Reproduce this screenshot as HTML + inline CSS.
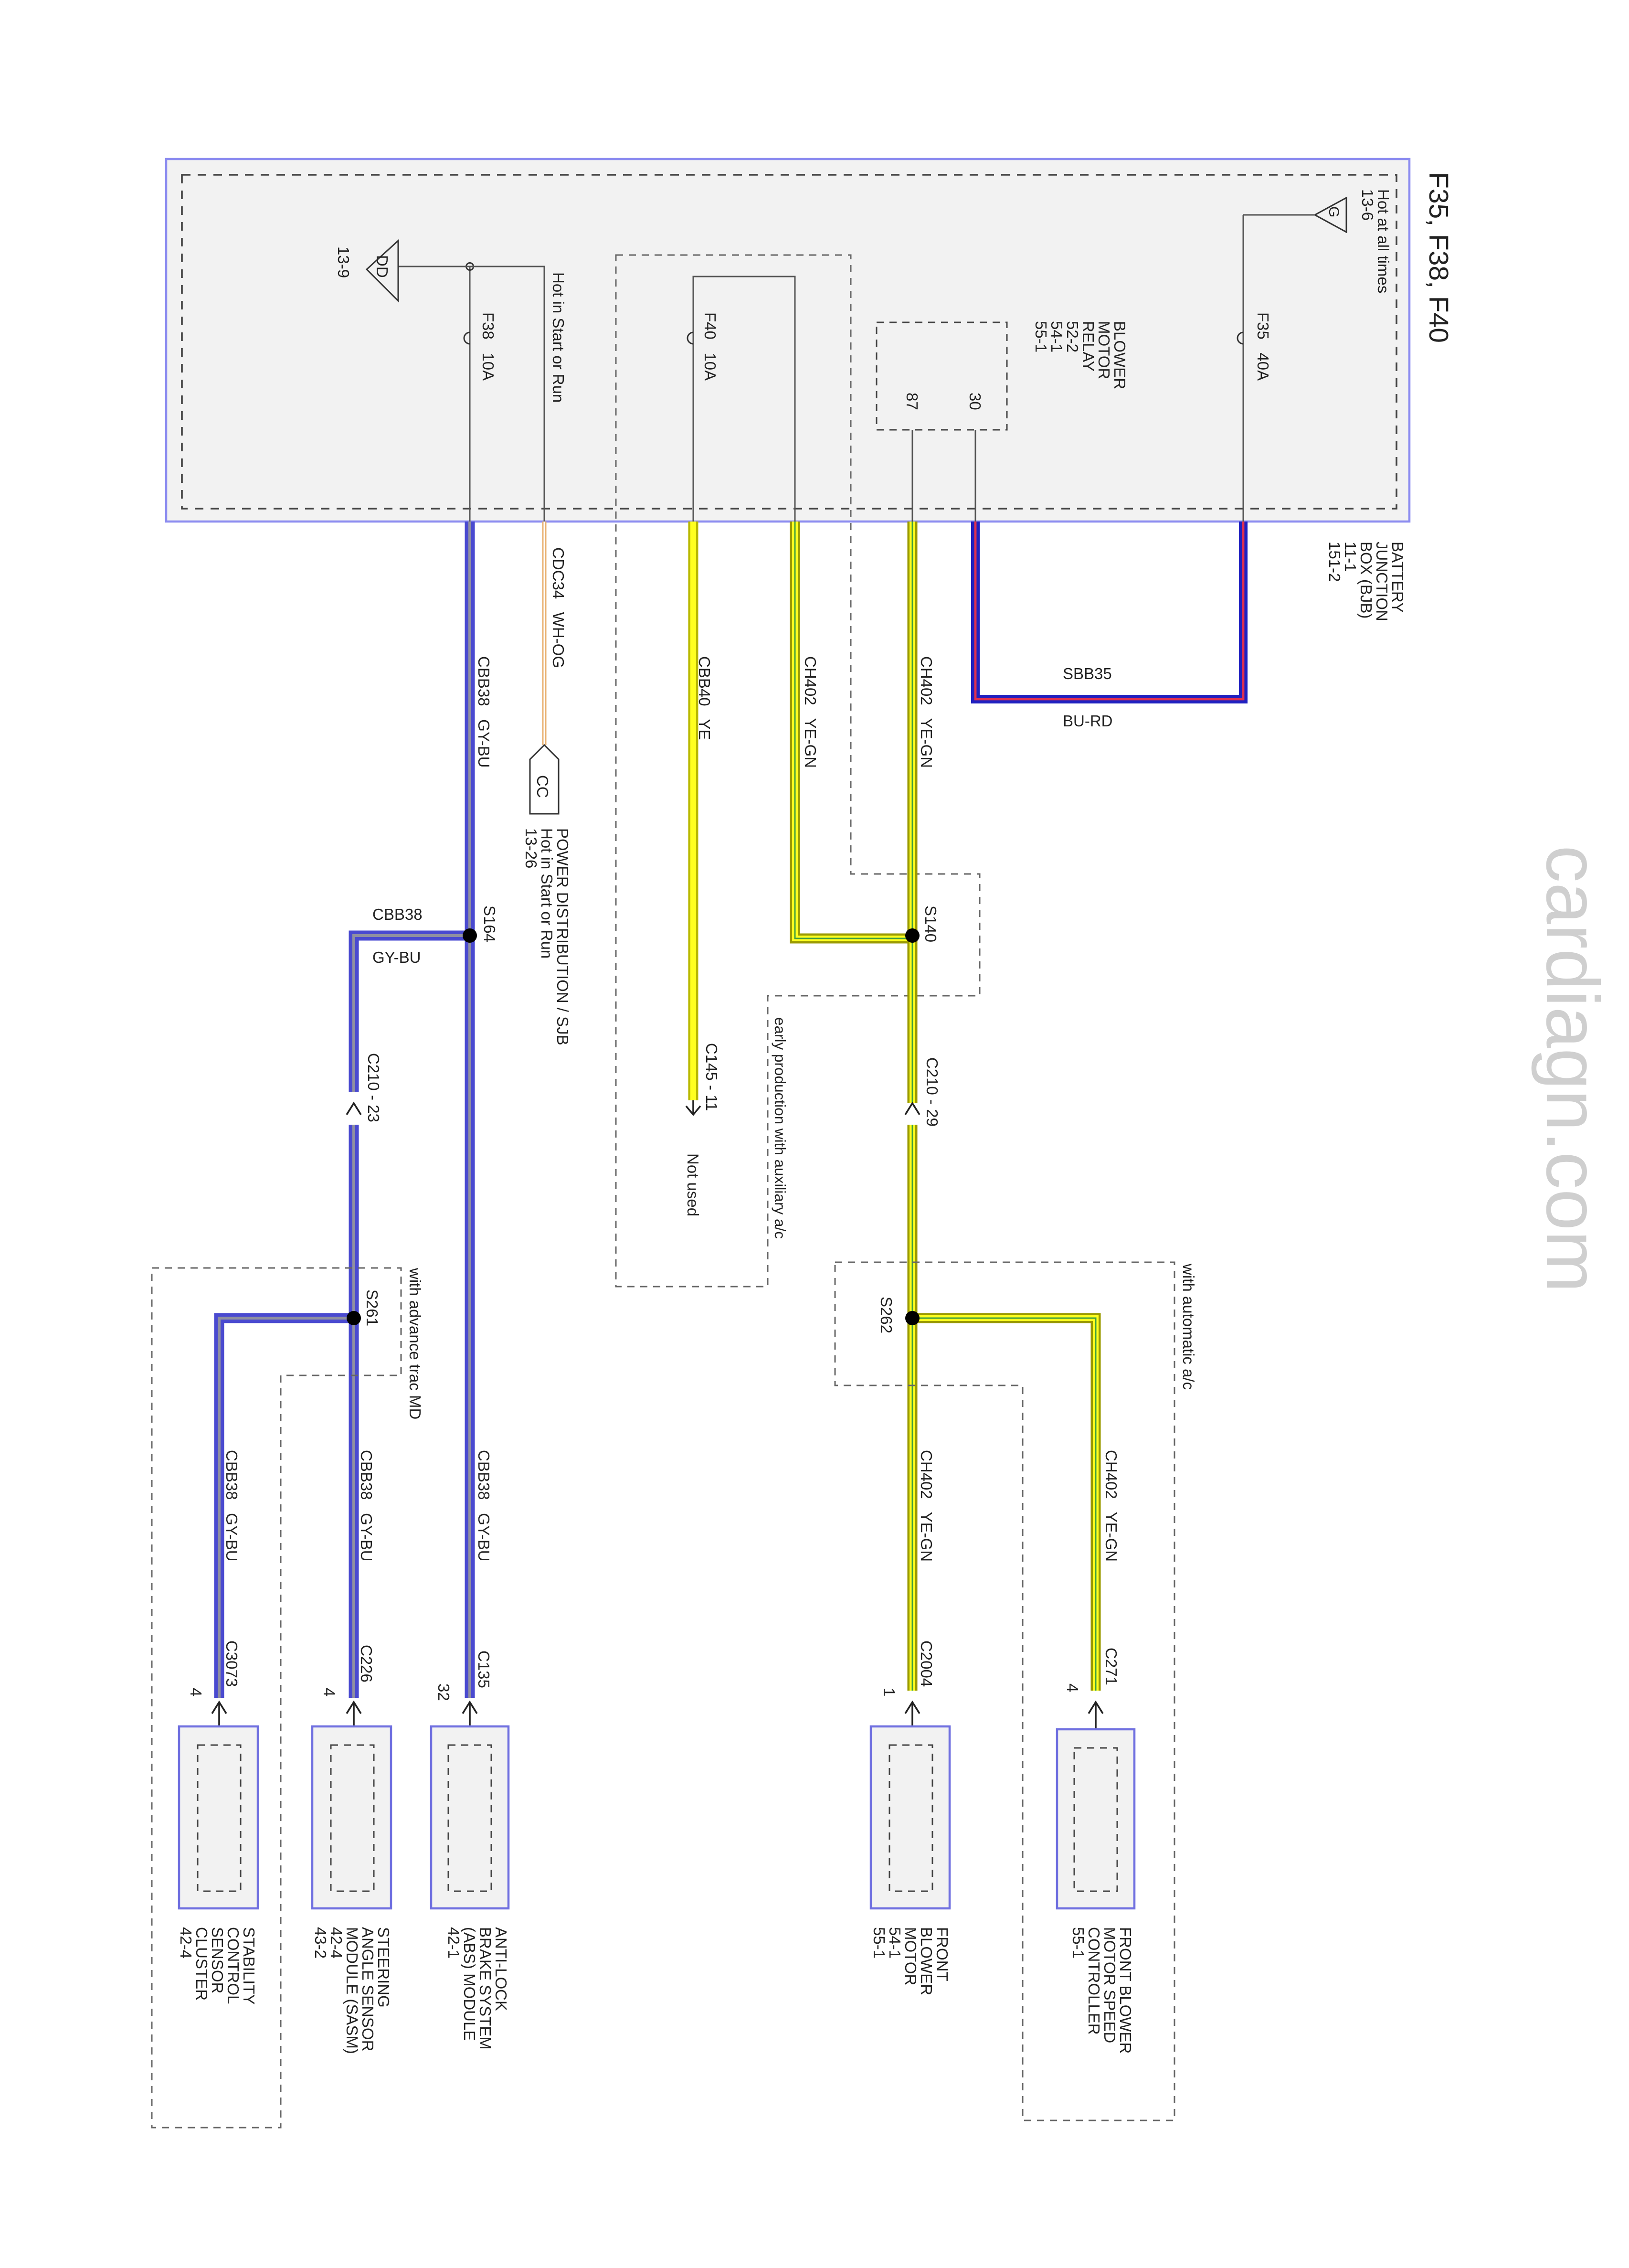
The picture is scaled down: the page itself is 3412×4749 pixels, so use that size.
<!DOCTYPE html>
<html><head><meta charset="utf-8"><style>
html,body{margin:0;padding:0;background:#fff;}
svg{display:block}
text{font-family:"Liberation Sans",sans-serif;fill:#222;white-space:pre;}
</style></head><body>
<svg width="3412" height="4749" viewBox="0 0 1137.33 1583" xmlns="http://www.w3.org/2000/svg">
<defs>
<g id="arr"><path d="M-5,6 L0,0 L5,6" fill="none" stroke="#222" stroke-width="1.2"/><line x1="0" y1="0" x2="0" y2="10" stroke="#222" stroke-width="1.2"/></g>
</defs>
<rect x="116" y="111" width="868" height="253" fill="#f2f2f2" stroke="#8c8cf0" stroke-width="1.5"/>
<rect x="127" y="122" width="848" height="233" fill="none" stroke="#444" stroke-width="1.2" stroke-dasharray="6,5"/>
<text transform="translate(998,120) rotate(90)" font-size="19">F35, F38, F40</text>
<g font-size="11">
<text transform="translate(972,378) rotate(90)">BATTERY</text>
<text transform="translate(961,378) rotate(90)">JUNCTION</text>
<text transform="translate(950,378) rotate(90)">BOX (BJB)</text>
<text transform="translate(939,378) rotate(90)">11-1</text>
<text transform="translate(928,378) rotate(90)">151-2</text>
<text transform="translate(962,132) rotate(90)">Hot at all times</text>
<text transform="translate(951,132) rotate(90)">13-6</text>
<text transform="translate(878,218) rotate(90)">F35   40A</text>
<text transform="translate(778,224) rotate(90)">BLOWER</text>
<text transform="translate(767,224) rotate(90)">MOTOR</text>
<text transform="translate(756,224) rotate(90)">RELAY</text>
<text transform="translate(745,224) rotate(90)">52-2</text>
<text transform="translate(734,224) rotate(90)">54-1</text>
<text transform="translate(723,224) rotate(90)">55-1</text>
<text transform="translate(677,274) rotate(90)">30</text>
<text transform="translate(633,274) rotate(90)">87</text>
<text transform="translate(492,218) rotate(90)">F40   10A</text>
<text transform="translate(337,218) rotate(90)">F38   10A</text>
<text transform="translate(386,190) rotate(90)">Hot in Start or Run</text>
<text transform="translate(236,172) rotate(90)">13-9</text>
</g>
<path d="M940,138 L940,162 L918,150 Z" fill="none" stroke="#333" stroke-width="1"/>
<text transform="translate(928,144) rotate(90)" font-size="10">G</text>
<line x1="918" y1="150" x2="868" y2="150" stroke="#555" stroke-width="1"/>
<line x1="868" y1="150" x2="868" y2="364" stroke="#555" stroke-width="1"/>
<path d="M868,232 a4,4 0 0,0 0,8" fill="none" stroke="#333"/>
<rect x="612" y="225" width="91" height="75" fill="none" stroke="#444" stroke-dasharray="5,4"/>
<line x1="681" y1="300" x2="681" y2="364" stroke="#555"/>
<line x1="637" y1="300" x2="637" y2="364" stroke="#555"/>
<path d="M868,364 V488 H681 V364" fill="none" stroke="#2020c0" stroke-width="6"/>
<path d="M868,364 V488 H681 V364" fill="none" stroke="#e03050" stroke-width="1.6"/>
<text transform="translate(742,474)" font-size="11">SBB35</text>
<text transform="translate(742,507)" font-size="11">BU-RD</text>
<path d="M430,178 H594 V610 H684 V695 H536 V898 H430 Z" fill="none" stroke="#666" stroke-dasharray="5,4"/>
<text transform="translate(541,710) rotate(90)" font-size="10.5">early production with auxiliary a/c</text>
<path d="M484,364 V193 H555 V364" fill="none" stroke="#555"/>
<path d="M484,232 a4,4 0 0,0 0,8" fill="none" stroke="#333"/>
<line x1="484" y1="364" x2="484" y2="768" stroke="#b8b800" stroke-width="7"/>
<line x1="484" y1="364" x2="484" y2="768" stroke="#ffff20" stroke-width="4"/>
<use href="#arr" x="484" y="768" transform="rotate(180 484 773)"/>
<g font-size="11">
<text transform="translate(488,458) rotate(90)">CBB40   YE</text>
<text transform="translate(493,728) rotate(90)">C145 - 11</text>
<text transform="translate(480,805) rotate(90)">Not used</text>
</g>
<g fill="none">
<path d="M555,364 V655 H637" stroke="#9a9a00" stroke-width="7"/>
<path d="M555,364 V655 H637" stroke="#ffff20" stroke-width="4"/>
<path d="M555,364 V655 H637" stroke="#40a040" stroke-width="1"/>
<path d="M637,364 V770 M637,785 V1180" stroke="#9a9a00" stroke-width="7"/>
<path d="M637,364 V770 M637,785 V1180" stroke="#ffff20" stroke-width="4"/>
<path d="M637,364 V770 M637,785 V1180" stroke="#40a040" stroke-width="1"/>
<path d="M637,920 H765 V1180" stroke="#9a9a00" stroke-width="7"/>
<path d="M637,920 H765 V1180" stroke="#ffff20" stroke-width="4"/>
<path d="M637,920 H765 V1180" stroke="#40a040" stroke-width="1"/>
</g>
<circle cx="637" cy="653" r="5" fill="#000"/>
<circle cx="637" cy="920" r="5" fill="#000"/>
<path d="M632,778 L637,770 L642,778" fill="none" stroke="#222" stroke-width="1.2"/>
<g font-size="11">
<text transform="translate(562,458) rotate(90)">CH402   YE-GN</text>
<text transform="translate(643,458) rotate(90)">CH402   YE-GN</text>
<text transform="translate(646,632) rotate(90)">S140</text>
<text transform="translate(647,738) rotate(90)">C210 - 29</text>
<text transform="translate(615,905) rotate(90)">S262</text>
<text transform="translate(643,1012) rotate(90)">CH402   YE-GN</text>
<text transform="translate(772,1012) rotate(90)">CH402   YE-GN</text>
<text transform="translate(643,1145) rotate(90)">C2004</text>
<text transform="translate(772,1150) rotate(90)">C271</text>
<text transform="translate(617,1178) rotate(90)">1</text>
<text transform="translate(745,1175) rotate(90)">4</text>
<text transform="translate(826,882) rotate(90)">with automatic a/c</text>
</g>
<path d="M583,881 H820 V1480 H714 V967 H583 Z" fill="none" stroke="#666" stroke-dasharray="5,4"/>
<line x1="328" y1="186" x2="328" y2="364" stroke="#555"/>
<path d="M328,232 a4,4 0 0,0 0,8" fill="none" stroke="#333"/>
<circle cx="328" cy="186" r="2.5" fill="none" stroke="#333"/>
<path d="M278,186 H380 V364" fill="none" stroke="#555"/>
<path d="M278,168 L278,210 L256,188 Z" fill="none" stroke="#333"/>
<text transform="translate(263,178) rotate(90)" font-size="11">DD</text>
<line x1="380" y1="364" x2="380" y2="520" stroke="#e8b070" stroke-width="3"/>
<line x1="380" y1="364" x2="380" y2="520" stroke="#fff" stroke-width="1"/>
<path d="M380,520 L370,530 V568 H390 V530 Z" fill="#fff" stroke="#333"/>
<text transform="translate(375,541) rotate(90)" font-size="11">CC</text>
<g font-size="11">
<text transform="translate(386,382) rotate(90)">CDC34   WH-OG</text>
<text transform="translate(389,578) rotate(90)">POWER DISTRIBUTION / SJB</text>
<text transform="translate(378,578) rotate(90)">Hot in Start or Run</text>
<text transform="translate(367,578) rotate(90)">13-26</text>
</g>
<g fill="none">
<path d="M328,364 V1185 M328,653 H247 V762 M247,785 V1185 M247,920 H153 V1185" stroke="#4a4ad0" stroke-width="7"/>
<path d="M328,364 V1185 M328,653 H247 V762 M247,785 V1185 M247,920 H153 V1185" stroke="#9090a0" stroke-width="2"/>
</g>
<circle cx="328" cy="653" r="5" fill="#000"/>
<circle cx="247" cy="920" r="5" fill="#000"/>
<path d="M242,778 L247,770 L252,778" fill="none" stroke="#222" stroke-width="1.2"/>
<g font-size="11">
<text transform="translate(334,458) rotate(90)">CBB38   GY-BU</text>
<text transform="translate(338,632) rotate(90)">S164</text>
<text transform="translate(260,642)">CBB38</text>
<text transform="translate(260,672)">GY-BU</text>
<text transform="translate(257,735) rotate(90)">C210 - 23</text>
<text transform="translate(256,900) rotate(90)">S261</text>
<text transform="translate(286,885) rotate(90)">with advance trac MD</text>
<text transform="translate(334,1012) rotate(90)">CBB38   GY-BU</text>
<text transform="translate(252,1012) rotate(90)">CBB38   GY-BU</text>
<text transform="translate(158,1012) rotate(90)">CBB38   GY-BU</text>
<text transform="translate(334,1152) rotate(90)">C135</text>
<text transform="translate(252,1148) rotate(90)">C226</text>
<text transform="translate(158,1145) rotate(90)">C3073</text>
<text transform="translate(306,1175) rotate(90)">32</text>
<text transform="translate(226,1178) rotate(90)">4</text>
<text transform="translate(133,1178) rotate(90)">4</text>
</g>
<path d="M106,885 H280 V960 H196 V1485 H106 Z" fill="none" stroke="#666" stroke-dasharray="5,4"/>
<g fill="none" stroke="#222" stroke-width="1.2">
<path d="M148,1196 L153,1188 L158,1196 M153,1188 V1218"/>
<path d="M242,1196 L247,1188 L252,1196 M247,1188 V1218"/>
<path d="M323,1196 L328,1188 L333,1196 M328,1188 V1218"/>
<path d="M632,1196 L637,1188 L642,1196 M637,1188 V1218"/>
<path d="M760,1196 L765,1188 L770,1196 M765,1188 V1218"/>
</g>
<g>
<rect x="125" y="1205" width="55" height="127" fill="#f2f2f2" stroke="#7070e0" stroke-width="1.5"/>
<rect x="138" y="1218" width="30" height="102" fill="none" stroke="#444" stroke-dasharray="5,4"/>
<rect x="218" y="1205" width="55" height="127" fill="#f2f2f2" stroke="#7070e0" stroke-width="1.5"/>
<rect x="231" y="1218" width="30" height="102" fill="none" stroke="#444" stroke-dasharray="5,4"/>
<rect x="301" y="1205" width="54" height="127" fill="#f2f2f2" stroke="#7070e0" stroke-width="1.5"/>
<rect x="313" y="1218" width="30" height="102" fill="none" stroke="#444" stroke-dasharray="5,4"/>
<rect x="608" y="1205" width="55" height="127" fill="#f2f2f2" stroke="#7070e0" stroke-width="1.5"/>
<rect x="621" y="1218" width="30" height="102" fill="none" stroke="#444" stroke-dasharray="5,4"/>
<rect x="738" y="1207" width="54" height="125" fill="#f2f2f2" stroke="#7070e0" stroke-width="1.5"/>
<rect x="750" y="1220" width="30" height="100" fill="none" stroke="#444" stroke-dasharray="5,4"/>
</g>
<g font-size="11">
<text transform="translate(170,1345) rotate(90)">STABILITY</text>
<text transform="translate(159,1345) rotate(90)">CONTROL</text>
<text transform="translate(148,1345) rotate(90)">SENSOR</text>
<text transform="translate(137,1345) rotate(90)">CLUSTER</text>
<text transform="translate(126,1345) rotate(90)">42-4</text>
<text transform="translate(264,1345) rotate(90)">STEERING</text>
<text transform="translate(253,1345) rotate(90)">ANGLE SENSOR</text>
<text transform="translate(242,1345) rotate(90)">MODULE (SASM)</text>
<text transform="translate(231,1345) rotate(90)">42-4</text>
<text transform="translate(220,1345) rotate(90)">43-2</text>
<text transform="translate(346,1345) rotate(90)">ANTI-LOCK</text>
<text transform="translate(335,1345) rotate(90)">BRAKE SYSTEM</text>
<text transform="translate(324,1345) rotate(90)">(ABS) MODULE</text>
<text transform="translate(313,1345) rotate(90)">42-1</text>
<text transform="translate(654,1345) rotate(90)">FRONT</text>
<text transform="translate(643,1345) rotate(90)">BLOWER</text>
<text transform="translate(632,1345) rotate(90)">MOTOR</text>
<text transform="translate(621,1345) rotate(90)">54-1</text>
<text transform="translate(610,1345) rotate(90)">55-1</text>
<text transform="translate(782,1345) rotate(90)">FRONT BLOWER</text>
<text transform="translate(771,1345) rotate(90)">MOTOR SPEED</text>
<text transform="translate(760,1345) rotate(90)">CONTROLLER</text>
<text transform="translate(749,1345) rotate(90)">55-1</text>
</g>
<text transform="translate(1080,590) rotate(90)" font-size="52" style="fill:#cfcfcf">cardiagn.com</text>
</svg>
</body></html>
